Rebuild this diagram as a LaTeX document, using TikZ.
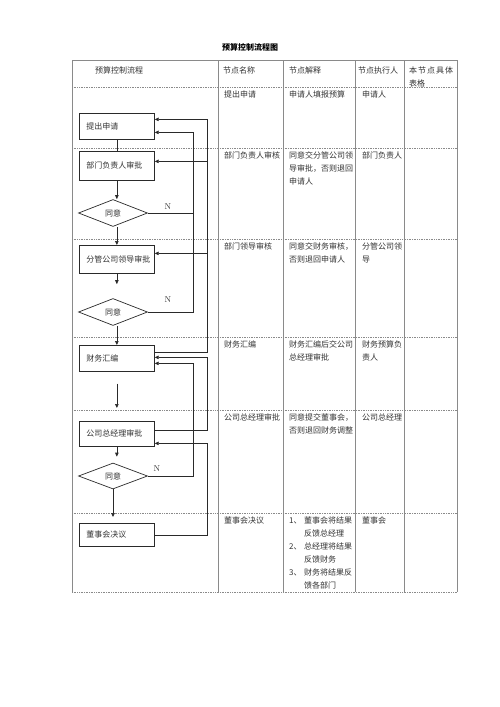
\documentclass[tikz,border=0pt]{standalone}
\usepackage{fontspec}
\newfontfamily\cjk{Noto Sans CJK SC}
\usetikzlibrary{arrows.meta,shapes.geometric}
\definecolor{linec}{HTML}{2A2A2A}
\definecolor{tabc}{HTML}{8A8A8A}
\definecolor{txt}{HTML}{333333}
\begin{document}
\begin{tikzpicture}[x=1pt,y=-1pt,
  fbox/.style={draw=linec, line width=0.7pt, text width=61pt, inner xsep=7pt, inner ysep=0pt,
    align=left, font=\cjk\fontsize{8}{10}\selectfont, text=txt, anchor=north west},
  fdia/.style={draw=linec, line width=0.7pt, diamond, minimum width=69pt, minimum height=27pt,
    inner sep=0pt, font=\cjk\fontsize{8}{10}\selectfont, text=txt},
  fline/.style={draw=linec, line width=0.7pt},
  arr/.style={fline, -{Triangle[length=4pt,width=3.5pt]}},
  cell/.style={anchor=north west, inner sep=0pt, align=left, font=\cjk\fontsize{8}{13}\selectfont, text=txt},
  tline/.style={draw=tabc, line width=0.6pt},
  dline/.style={draw=tabc, line width=0.6pt, dash pattern=on 0.8pt off 0.9pt},
  nlab/.style={inner sep=0pt, font=\fontsize{8.5}{9}\selectfont, text=txt}
]
\useasboundingbox (0,0) rectangle (500,707);
\fill[white] (0,0) rectangle (500,707);

% title
\node[font=\cjk\bfseries\fontsize{8}{8}\selectfont, text=black] (title) at (250,47) {预算控制流程图};

% table
\draw[tline] (72,60) -- (457,60);
\foreach \x in {72,218,283,355,404,457} \draw[tline] (\x,60) -- (\x,592);
\foreach \y in {87,148,239,337,410,513,592} \draw[dline] (72,\y) -- (457,\y);

% header
\node[cell] (h1) at (95,66.5) {预算控制流程};
\node[cell] (h2) at (223,66.5) {节点名称};
\node[cell] (h3) at (289,66.5) {节点解释};
\node[cell] (h4) at (358,66.5) {节点执行人};
\node[cell] (h5) at (409,66.5) {本\hspace{1pt}节\hspace{1pt}点\hspace{1pt}具\hspace{1pt}体\\表格};

% rows
\node[cell] (r1a) at (224,90.5) {提出申请};
\node[cell] (r1b) at (289,90.5) {申请人填报预算};
\node[cell] (r1c) at (362,90.5) {申请人};

\node[cell] (r2a) at (224,151.5) {部门负责人审核};
\node[cell] (r2b) at (289,151.5) {同意交分管公司领\\导审批，否则退回\\申请人};
\node[cell] (r2c) at (362,151.5) {部门负责人};

\node[cell] (r3a) at (224,242.5) {部门领导审核};
\node[cell] (r3b) at (289,242.5) {同意交财务审核，\\否则退回申请人};
\node[cell] (r3c) at (362,242.5) {分管公司领\\导};

\node[cell] (r4a) at (224,340.5) {财务汇编};
\node[cell] (r4b) at (289,340.5) {财务汇编后交公司\\总经理审批};
\node[cell] (r4c) at (362,340.5) {财务预算负\\责人};

\node[cell] (r5a) at (224,413.5) {公司总经理审批};
\node[cell] (r5b) at (289,413.5) {同意提交董事会，\\否则退回财务调整};
\node[cell] (r5c) at (362,413.5) {公司总经理};

\node[cell] (r6a) at (224,516.5) {董事会决议};
\node[cell] (r6b) at (289,516.5) {\makebox[15pt][l]{1、}董事会将结果\\\hspace*{15pt}反馈总经理\\
  \makebox[15pt][l]{2、}总经理将结果\\\hspace*{15pt}反馈财务\\
  \makebox[15pt][l]{3、}财务将结果反\\\hspace*{15pt}馈各部门};
\node[cell] (r6c) at (362,516.5) {董事会};

% flowchart nodes
\node[fbox, minimum height=26pt] (b1) at (79,113) {提出申请};
\node[fbox, minimum height=29pt] (b2) at (79,151) {部门负责人审批};
\node[fdia] (d1) at (113,213) {同意};
\node[fbox, minimum height=28pt] (b3) at (79,245) {分管公司领导审批};
\node[fdia] (d2) at (113,312) {同意};
\node[fbox, minimum height=26pt] (b4) at (79,345) {财务汇编};
\node[fbox, minimum height=25pt] (b5) at (79,421) {公司总经理审批};
\node[fdia, minimum height=26pt] (d3) at (113,476) {同意};
\node[fbox, minimum height=23pt] (b6) at (79,523) {董事会决议};

\node[nlab] (n1) at (168,207) {N};
\node[nlab] (n2) at (168,300) {N};
\node[nlab] (n3) at (157,469) {N};

% helper coordinates
\coordinate (ox) at (207,0);
\coordinate (ix) at (193,0);
\coordinate (b1o) at ([yshift=7pt]b1.east);
\coordinate (b1n) at ([yshift=-6pt]b1.east);
\coordinate (b2i) at ([yshift=4.5pt]b2.east);
\coordinate (b3i) at ([yshift=6pt]b3.east);
\coordinate (b4o) at ([yshift=6pt]b4.east);
\coordinate (b4a) at ([yshift=1pt]b4.east);
\coordinate (b4b) at ([yshift=-5pt]b4.east);
\coordinate (b5o) at ([yshift=3.5pt]b5.east);
\coordinate (b5i) at ([yshift=-9.5pt]b5.east);

% main flow
\draw[fline] (b1.south) -- (b2.north);
\draw[arr] (b2.south) -- (b2.south |- d1.north);
\draw[arr] (b3.north |- d1.south) -- (b3.north);
\draw[arr, shorten >=14pt] (b3.south) -- (b3.south |- d2.north);
\draw[arr] (b4.north |- d2.south) -- (b4.north);
\draw[arr, shorten <=12pt, shorten >=13pt] (b4.south) -- (b5.north);
\draw[arr, shorten >=6pt] (b5.south) -- (b5.south |- d3.north);
\draw[arr, shorten >=6pt] (d3.south) -- (d3.south |- b6.north);

% returns upper
\draw[fline] (b4o) -- (ox |- b4o) -- (ox |- b1o);
\draw[arr] (ox |- b1o) -- (b1o);
\draw[arr] (ox |- b2i) -- (b2i);
\draw[arr] (ox |- b3i) -- (b3i);
\draw[fline] (d2.east) -- (ix |- d2.east) -- (ix |- b1n);
\draw[arr] (ix |- b1n) -- (b1n);
\draw[fline] (d1.east) -- (ix |- d1.east);

% returns lower
\draw[arr] (b5o) -- (ox |- b5o) -- (ox |- b4a) -- (b4a);
\draw[arr] (d3.east) -- (ix |- d3.east) -- (ix |- b4b) -- (b4b);
\draw[arr] (b6.east) -- (ox |- b6.east) -- (ox |- b5i) -- (b5i);
\end{tikzpicture}
\end{document}
